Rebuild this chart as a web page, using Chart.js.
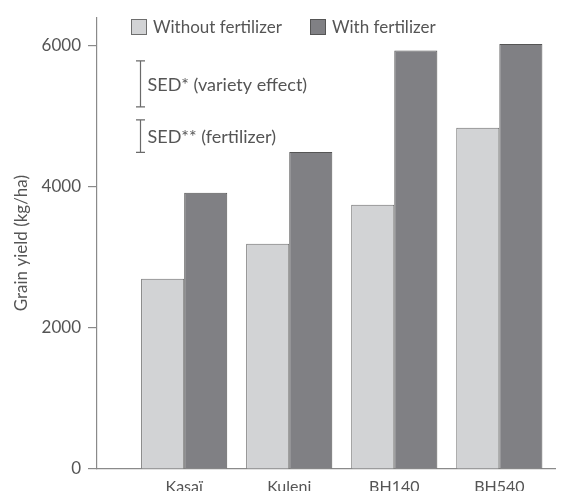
<!DOCTYPE html>
<html>
<head>
<meta charset="utf-8">
<script src="https://cdn.jsdelivr.net/npm/chart.js@4/dist/chart.umd.min.js"></script>
<style>
  html, body { margin: 0; padding: 0; background: #fff; overflow: hidden; }
  #wrap { width: 562px; height: 491px; position: relative; }
</style>
</head>
<body>
<div id="wrap"><canvas id="c"></canvas></div>
<script>
// Grain yield of four maize varieties, with and without fertilizer
const varieties = ['Kasaï', 'Kuleni', 'BH140', 'BH540'];
const withoutFertilizer = [2695, 3190, 3745, 4835];
const withFertilizer = [3915, 4490, 5930, 6020];
const yTicks = [0, 2000, 4000, 6000];
const seriesNames = ['Without fertilizer', 'With fertilizer'];

// standard errors of difference, drawn as vertical bars in data units
const sedNames = ['SED* (variety effect)', 'SED** (fertilizer)'];
const sedValues = [650, 460];
const sedTops = [5780, 4945];

const AXIS = '#8a8a8a';
const TEXT = '#555555';
const FONT = 'Lato, "DejaVu Sans", sans-serif';

const toPoints = arr => arr.map((v, i) => ({ x: i, y: v }));

// legend drawn inside the plot area, top-left
const innerLegend = {
  id: 'innerLegend',
  afterDraw(chart) {
    const { ctx, chartArea } = chart;
    const starts = [chartArea.left + 34.5, chartArea.left + 213.5];
    ctx.save();
    ctx.font = '17px ' + FONT;
    ctx.textBaseline = 'middle';
    ctx.textAlign = 'left';
    chart.data.datasets.forEach((ds, i) => {
      const x = starts[i];
      const y = 19.5;
      ctx.fillStyle = ds.backgroundColor;
      ctx.fillRect(x, y, 15, 15);
      ctx.strokeStyle = ds.borderColor;
      ctx.lineWidth = 1;
      ctx.strokeRect(x, y, 15, 15);
      ctx.fillStyle = TEXT;
      ctx.fillText(ds.label, x + 21.5, y + 8);
    });
    ctx.restore();
  }
};

// SED markers
const sedMarkers = {
  id: 'sedMarkers',
  afterDraw(chart) {
    const { ctx, chartArea, scales } = chart;
    const x = chartArea.left + 43.5;
    ctx.save();
    ctx.strokeStyle = '#6a6a6a';
    ctx.lineWidth = 1.2;
    ctx.font = '18px ' + FONT;
    ctx.fillStyle = TEXT;
    ctx.textBaseline = 'middle';
    sedValues.forEach((v, i) => {
      const yt = scales.y.getPixelForValue(sedTops[i]);
      const yb = scales.y.getPixelForValue(sedTops[i] - v);
      ctx.beginPath();
      ctx.moveTo(x, yt); ctx.lineTo(x, yb);
      ctx.moveTo(x - 4.5, yt); ctx.lineTo(x + 4.5, yt);
      ctx.moveTo(x - 4.5, yb); ctx.lineTo(x + 4.5, yb);
      ctx.stroke();
      ctx.fillText(sedNames[i], x + 7, (yt + yb) / 2 + 1);
    });
    ctx.restore();
  }
};

new Chart(document.getElementById('c'), {
  type: 'bar',
  data: {
    datasets: [
      {
        label: seriesNames[0],
        data: toPoints(withoutFertilizer),
        backgroundColor: '#d2d3d5',
        borderColor: '#6e6e6e',
        borderWidth: 1
      },
      {
        label: seriesNames[1],
        data: toPoints(withFertilizer),
        backgroundColor: '#808084',
        borderColor: '#555555',
        borderWidth: 1
      }
    ]
  },
  options: {
    responsive: true,
    maintainAspectRatio: false,
    animation: false,
    datasets: { bar: { categoryPercentage: 0.82, barPercentage: 1.0 } },
    layout: { padding: { top: 17, right: 7, left: 0, bottom: 0 } },
    plugins: {
      legend: { display: false },
      tooltip: { enabled: false }
    },
    scales: {
      x: {
        type: 'linear',
        offset: false,
        bounds: 'data',
        min: -0.83,
        max: 3.53,
        afterBuildTicks: s => { s.ticks = varieties.map((_, i) => ({ value: i })); },
        afterFit: s => { s.height = 22; },
        grid: { display: false, drawTicks: false, offset: false },
        border: { display: true, color: AXIS, width: 1.2 },
        ticks: {
          callback: v => varieties[v],
          font: { family: FONT, size: 16 },
          color: TEXT,
          padding: 8,
          maxRotation: 0
        }
      },
      y: {
        min: 0,
        max: 6400,
        afterBuildTicks: s => { s.ticks = yTicks.map(v => ({ value: v })); },
        afterFit: s => { s.width = 97; },
        grid: { drawOnChartArea: false, tickLength: 9, color: AXIS, lineWidth: 1.2 },
        border: { display: true, color: AXIS, width: 1.2 },
        ticks: {
          callback: v => String(v),
          font: { family: FONT, size: 17 },
          color: TEXT,
          padding: 7
        },
        title: {
          display: true,
          text: 'Grain yield (kg/ha)',
          font: { family: FONT, size: 17 },
          color: TEXT,
          padding: { top: 11, bottom: 0 }
        }
      }
    }
  },
  plugins: [innerLegend, sedMarkers]
});
</script>
</body>
</html>
